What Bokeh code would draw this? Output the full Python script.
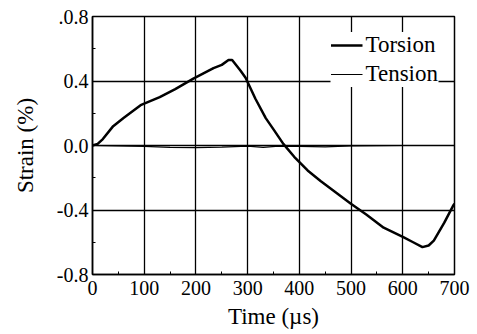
from bokeh.plotting import figure
from bokeh.embed import file_html
from bokeh.resources import INLINE
from bokeh.models import Range1d, FixedTicker, Legend, LegendItem

time_torsion = [0, 10, 20, 40, 60, 93, 130, 160, 195, 234, 250, 263, 270, 286, 296, 315, 335, 350, 369, 390, 416, 441, 470, 499, 530, 563, 602, 620, 638, 650, 660, 680, 698, 700]
strain_torsion = [0, 0.01, 0.04, 0.12, 0.17, 0.25, 0.30, 0.35, 0.415, 0.48, 0.50, 0.53, 0.53, 0.465, 0.42, 0.29, 0.17, 0.10, 0.01, -0.07, -0.155, -0.22, -0.29, -0.36, -0.43, -0.51, -0.57, -0.60, -0.63, -0.62, -0.59, -0.48, -0.37, -0.36]
time_tension = [0, 50, 100, 150, 200, 250, 300, 330, 360, 400, 450, 500, 600, 700]
strain_tension = [0, -0.002, -0.006, -0.012, -0.013, -0.01, -0.004, -0.012, -0.004, -0.005, -0.008, -0.002, 0.0, 0.0]

x_ticks = [0, 100, 200, 300, 400, 500, 600, 700]
y_ticks = [-0.8, -0.4, 0.0, 0.4, 0.8]

font = "Liberation Serif"

p = figure(width=477, height=334, output_backend="svg", toolbar_location=None,
           x_range=Range1d(0, 700), y_range=Range1d(-0.8, 0.8),
           min_border_left=92, min_border_right=23, min_border_top=16, min_border_bottom=60)

p.outline_line_color = "black"
p.outline_line_width = 1.5

for ax in (p.xaxis, p.yaxis):
    ax.axis_line_color = "black"
    ax.axis_line_width = 1.5
    ax.major_tick_in = 0
    ax.major_tick_out = 0
    ax.minor_tick_in = 3
    ax.minor_tick_out = 0
    ax.major_label_text_font = font
    ax.major_label_text_font_size = "20px"
    ax.major_label_text_color = "black"
    ax.axis_label_text_font = font
    ax.axis_label_text_font_size = "23px"
    ax.axis_label_text_font_style = "normal"
    ax.axis_label_text_color = "black"

p.xaxis.ticker = FixedTicker(ticks=x_ticks, minor_ticks=[50, 150, 250, 350, 450, 550, 650])
p.yaxis.ticker = FixedTicker(ticks=y_ticks, minor_ticks=[-0.6, -0.2, 0.2, 0.6])
p.yaxis.major_label_overrides = {-0.8: "-0.8", -0.4: "-0.4", 0.0: "0.0", 0.4: "0.4", 0.8: ".0.8"}
p.xaxis.axis_label = "Time (µs)"
p.yaxis.axis_label = "Strain (%)"
p.xaxis.major_label_standoff = 6
p.yaxis.major_label_standoff = 4
p.xaxis.axis_label_standoff = 6
p.yaxis.axis_label_standoff = 16

p.xgrid.grid_line_color = "black"
p.ygrid.grid_line_color = "black"
p.xgrid.grid_line_width = 1.3
p.ygrid.grid_line_width = 1.3

r1 = p.line(time_torsion, strain_torsion, line_color="black", line_width=2.5)
r2 = p.line(time_tension, strain_tension, line_color="black", line_width=1.2)

legend = Legend(items=[LegendItem(label="Torsion", renderers=[r1]),
                       LegendItem(label="Tension", renderers=[r2])],
                location="top_right")
legend.label_text_font = font
legend.label_text_font_size = "23px"
legend.label_text_color = "black"
legend.border_line_color = None
legend.background_fill_color = "white"
legend.background_fill_alpha = 1.0
legend.glyph_width = 32
legend.spacing = 3
legend.padding = 10
legend.margin = 16
legend.label_standoff = 3
p.add_layout(legend)

open("out.html", "w").write(file_html(p, INLINE))
